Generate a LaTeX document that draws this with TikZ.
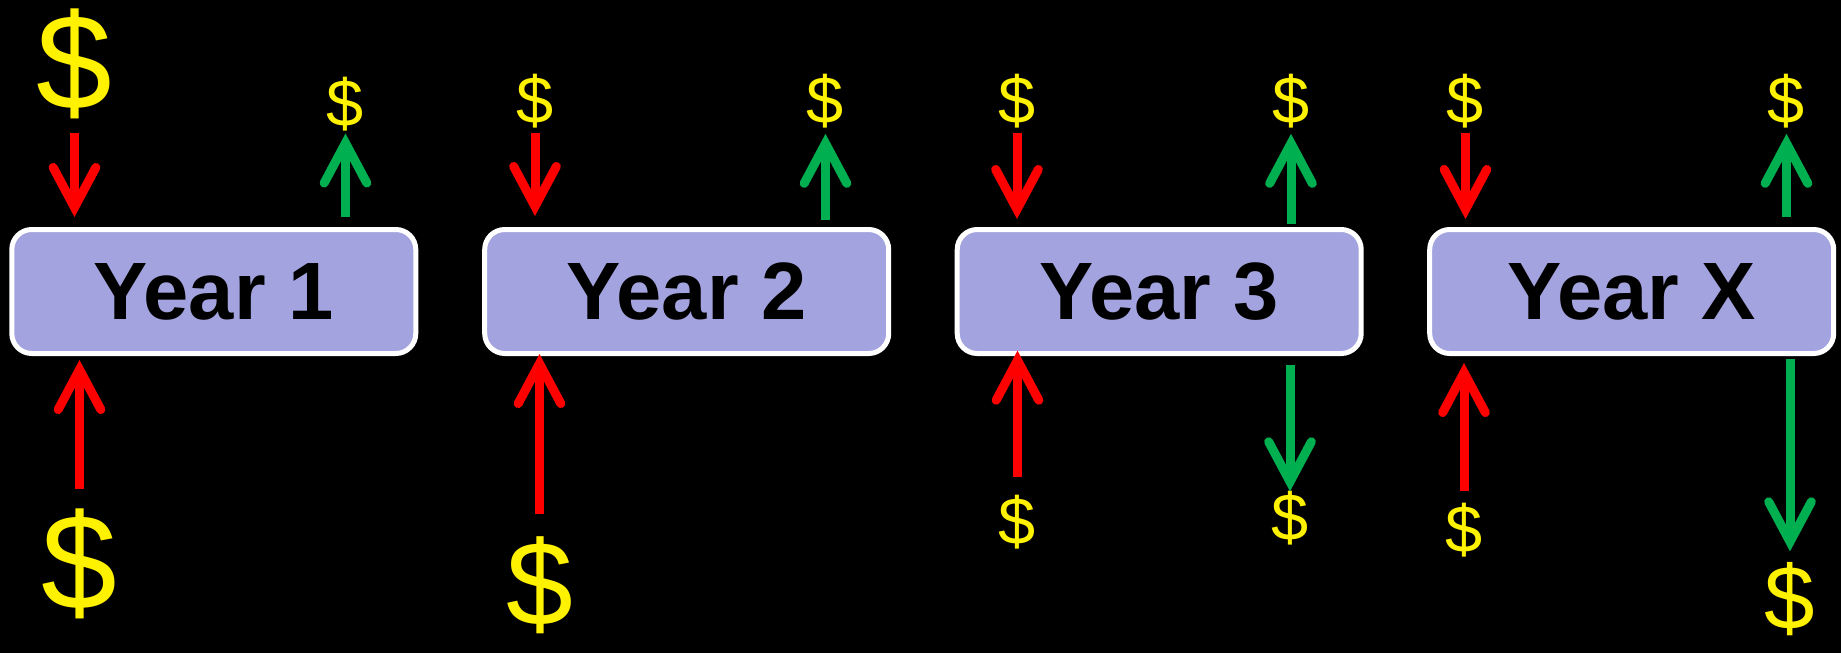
\documentclass[tikz,border=0pt]{standalone}
\usepackage{fontspec}
\setmainfont{Liberation Sans}
\usetikzlibrary{arrows.meta}

\definecolor{boxfill}{RGB}{163,163,223}
\definecolor{outgreen}{RGB}{0,176,80}

\tikzset{every picture/.style={line width=0.75pt}}
\tikzset{
  yearbox/.style={draw=white, line width=3.75pt, fill=boxfill, rounded corners=15pt,
    minimum width=303pt, minimum height=93pt, inner sep=0pt, text=black,
    font=\fontsize{61}{68}\selectfont\bfseries},
  cash/.style={inner sep=0pt, outer sep=0pt, text=yellow},
  smallcash/.style={cash, font=\fontsize{50}{56}\selectfont},
  midcash/.style={cash, font=\fontsize{68}{76}\selectfont},
  bigcash/.style={cash, font=\fontsize{102}{110}\selectfont},
  inflow/.style={draw=red, line width=6.75pt,
    -{Straight Barb[length=30pt,width=32pt,line cap=round]}},
  outflow/.style={inflow, draw=outgreen},
}

\begin{document}
\begin{tikzpicture}[x=0.75pt,y=0.75pt,yscale=-1,xscale=1]
%set diagram to the full frame
\fill[black] (0,0) rectangle (1841,653);

%Shape: Rounded Rect
\node[yearbox] (y1) at (213.8,291.5) {Year 1};
%Shape: Rounded Rect
\node[yearbox] (y2) at (686.7,291.5) {Year 2};
%Shape: Rounded Rect
\node[yearbox] (y3) at (1159.2,291.5) {Year 3};
%Shape: Rounded Rect
\node[yearbox] (yx) at (1631.7,291.5) {Year X};

% Text Node
\node[bigcash] (d1a) at (74.5,64) {\$};
\node[smallcash] (d1b) at (345.5,104.5) {\$};
\node[bigcash] (d1c) at (79.5,564) {\$};
% Text Node
\node[smallcash] (d2a) at (535,101.5) {\$};
\node[smallcash] (d2b) at (825.5,101.5) {\$};
\node[cash, font=\fontsize{90}{96}\selectfont] (d2c) at (539.5,585) {\$};
% Text Node
\node[smallcash] (d3a) at (1017,101.5) {\$};
\node[smallcash] (d3b) at (1291,101.5) {\$};
\node[smallcash] (d3c) at (1017.5,522.5) {\$};
\node[smallcash] (d3d) at (1290,518.3) {\$};
% Text Node
\node[smallcash] (dxa) at (1465.5,101.5) {\$};
\node[smallcash] (dxb) at (1786.5,101.5) {\$};
\node[smallcash] (dxc) at (1464,530) {\$};
\node[midcash] (dxd) at (1790,598.7) {\$};

%Straight Lines (year 1)
\draw[inflow, shorten <=10.5pt, shorten >=7.5pt] (d1a) -- (d1a |- y1.north);
\draw[outflow, shorten <=7.5pt, shorten >=1.5pt] (d1b |- y1.north) -- (d1b);
\draw[inflow, shorten <=14.6pt, shorten >=3pt] (d1c) -- (d1c |- y1.south);
%Straight Lines (year 2)
\draw[inflow, shorten <=16.5pt, shorten >=-1.5pt] (d2c) -- (d2c |- y2.south);
\draw[inflow, shorten <=3.4pt, shorten >=8.25pt] (d2a) -- (d2a |- y2.north);
\draw[outflow, shorten <=5.25pt, shorten >=4pt] (d2b |- y2.north) -- (d2b);
%Straight Lines (year 3)
\draw[inflow, shorten <=3.4pt, shorten >=6pt] (d3a) -- (d3a |- y3.north);
\draw[outflow, shorten <=2.25pt, shorten >=4pt] (d3b |- y3.north) -- (d3b);
\draw[inflow, shorten <=13.9pt, shorten >=-4pt] (d3c) -- (d3c |- y3.south);
\draw[outflow, shorten <=6.75pt, shorten >=0pt] (d3d |- y3.south) -- (d3d);
%Straight Lines (year x)
\draw[inflow, shorten <=3.4pt, shorten >=6pt] (dxa) -- (dxa |- yx.north);
\draw[outflow, shorten <=7.8pt, shorten >=4pt] (dxb |- yx.north) -- (dxb);
\draw[inflow, shorten <=9pt, shorten >=5.25pt] (dxc) -- (dxc |- yx.south);
\draw[outflow, shorten <=2.25pt, shorten >=8pt] (dxd |- yx.south) -- (dxd);

\end{tikzpicture}
\end{document}
